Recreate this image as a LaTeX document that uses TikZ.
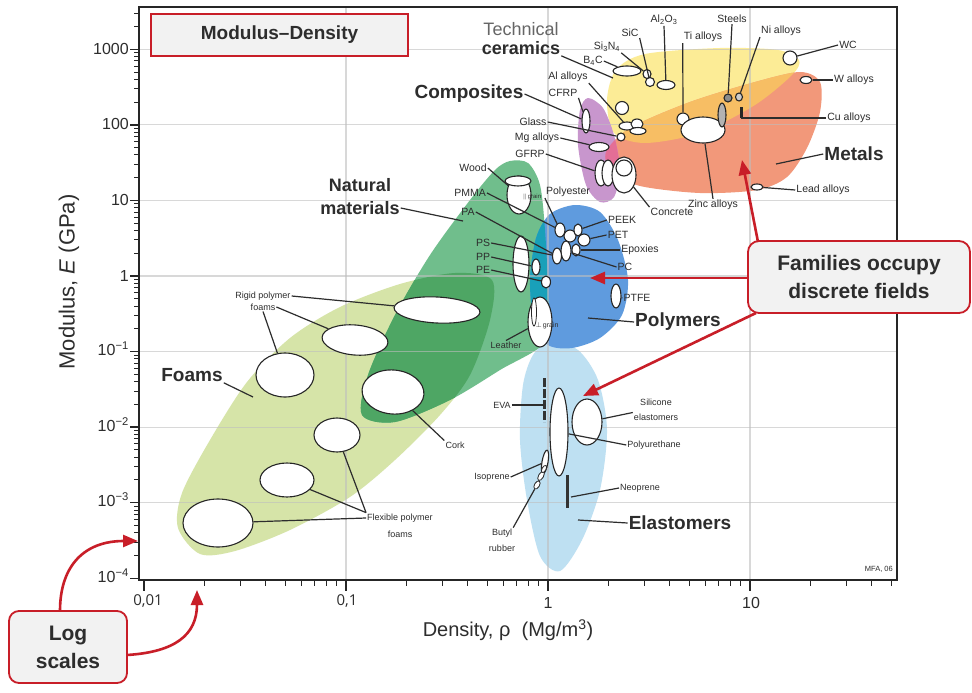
\documentclass[tikz,border=0pt]{standalone}
\usepackage{fontspec}
\setmainfont{Liberation Sans}
\newfontfamily\osans{Open Sans}
\usetikzlibrary{arrows.meta,shapes.geometric}
\definecolor{foamc}{RGB}{214,228,168}
\definecolor{natc}{RGB}{112,190,140}
\definecolor{natfoam}{RGB}{78,166,100}
\definecolor{polc}{RGB}{95,155,222}
\definecolor{polnat}{RGB}{25,160,185}
\definecolor{elac}{RGB}{190,224,242}
\definecolor{compc}{RGB}{200,150,205}
\definecolor{compmet}{RGB}{228,110,150}
\definecolor{cerc}{RGB}{252,236,150}
\definecolor{metc}{RGB}{242,152,122}
\definecolor{cermet}{RGB}{247,190,100}
\definecolor{redc}{RGB}{200,30,40}
\definecolor{boxfill}{RGB}{242,242,242}
\definecolor{txt}{RGB}{45,45,45}
\definecolor{gridc}{RGB}{190,190,190}
\newcommand\foamPath{plot[smooth cycle] coordinates {(200,554) (178,528) (182,493) (210,440) (247,382) (290,338) (340,307) (400,284) (455,273) (492,280) (490,320) (470,375) (440,415) (395,460) (350,497) (290,530) (235,551)}}
\newcommand\natPath{plot[smooth cycle] coordinates {(510,161) (528,163) (540,185) (545,230) (548,290) (547,340) (500,370) (450,400) (395,422) (362,415) (368,375) (395,315) (430,255) (470,200) (495,170)}}
\newcommand\polPath{plot[smooth cycle] coordinates {(536,238) (550,214) (575,205) (600,212) (618,240) (628,280) (622,315) (600,338) (572,348) (548,345) (534,322) (530,280)}}
\newcommand\elaPath{plot[smooth cycle] coordinates {(550,342) (578,350) (598,380) (607,430) (600,490) (582,540) (560,571) (540,556) (527,500) (520,440) (523,385) (533,355)}}
\newcommand\compPath{plot[smooth cycle] coordinates {(588,98) (603,108) (614,135) (620,170) (614,197) (600,202) (586,185) (578,145) (580,110)}}
\newcommand\cerPath{plot[smooth cycle] coordinates {(607,100) (616,70) (645,54) (720,48) (778,50) (799,60) (792,75) (755,105) (700,133) (645,143) (614,133)}}
\newcommand\metPath{plot[smooth cycle] coordinates {(606,152) (630,128) (690,102) (755,82) (800,72) (820,82) (820,112) (807,148) (787,177) (757,190) (700,193) (640,186) (612,172)}}
\begin{document}
\begin{tikzpicture}[x=1pt,y=-1pt,
  bub/.style={ellipse, draw=black!85, fill=white, line width=1.1pt, inner sep=0pt},
  lab/.style={font=\fontsize{10.5}{11}\selectfont, text=txt, inner sep=1pt},
  slab/.style={font=\fontsize{9}{10}\selectfont, text=txt, inner sep=1pt},
  blab/.style={font=\bfseries\fontsize{19}{22}\selectfont, text=txt, inner sep=1pt},
  lead/.style={draw=txt, line width=1.2pt},
  axisl/.style={draw=black!85, line width=1pt},
  ticklab/.style={font=\fontsize{16}{16}\selectfont, text=txt, inner sep=1pt},
  redarrow/.style={draw=redc, line width=2.6pt, -{Triangle[length=15pt,width=12pt]}},
  callout/.style={draw=redc, line width=1.8pt, fill=boxfill, rounded corners=11pt, font=\bfseries\fontsize{21}{28}\selectfont, text=txt, align=center, inner sep=0pt}]
\useasboundingbox (0,0) rectangle (972,693);
\fill[white] (0,0) rectangle (972,693);
% regions
\fill[foamc] \foamPath;
\fill[elac] \elaPath;
\fill[natc] \natPath;
\begin{scope}\clip \foamPath; \fill[natfoam] \natPath;\end{scope}
\fill[polc] \polPath;
\begin{scope}\clip \natPath; \fill[polnat] \polPath;\end{scope}
\fill[cerc] \cerPath;
\fill[metc] \metPath;
\begin{scope}\clip \cerPath; \fill[cermet] \metPath;\end{scope}
\fill[compc] \compPath;
\begin{scope}\clip \compPath; \fill[compmet] \metPath;\end{scope}
% grid
\foreach \k in {-3,...,3}{\pgfmathsetmacro\yy{276-75.57*\k}
  \draw[gridc, line width=1.1pt, opacity=0.6] (139,\yy) -- (897,\yy);}
\foreach \xx in {346,548,750}{\draw[gridc, line width=1.1pt, opacity=0.6] (\xx,7) -- (\xx,580);}
% foam bubbles
\node[bub, minimum width=86pt, minimum height=26pt, rotate=-3] (rf1) at (437,310) {};
\node[bub, minimum width=66pt, minimum height=30pt, rotate=-5] (rf2) at (355,340) {};
\node[bub, minimum width=58pt, minimum height=44pt] (rf3) at (285,375) {};
\node[bub, minimum width=62pt, minimum height=44pt, rotate=-5] (cork) at (393,392) {};
\node[bub, minimum width=46pt, minimum height=34pt] (ff1) at (337,435) {};
\node[bub, minimum width=54pt, minimum height=34pt] (ff2) at (287,480) {};
\node[bub, minimum width=70pt, minimum height=48pt] (ff3) at (218,523) {};
% natural / polymers
\node[bub, minimum width=24pt, minimum height=38pt] (wood) at (519,195) {};
\node[bub, minimum width=26pt, minimum height=10pt] (woodb) at (518,181) {};
\node[font=\fontsize{6}{6}\selectfont, text=txt, inner sep=0pt] (woodg) at (532,197) {$\parallel$\,grain};
\node[bub, minimum width=16pt, minimum height=56pt] (ps) at (521,264) {};
\node[bub, minimum width=8pt, minimum height=16pt] (pp) at (536,267) {};
\node[bub, minimum width=9pt, minimum height=12pt] (pe) at (546,282) {};
\node[bub, minimum width=24pt, minimum height=50pt] (leather) at (540,322) {};
\node[bub, minimum width=5pt, minimum height=28pt, line width=0.8pt] (leatherb) at (534,312) {};
\node[font=\fontsize{7}{7}\selectfont, text=txt, inner sep=0pt] (leatherg) at (547,326) {$\perp$\,grain};
\node[bub, minimum width=10pt, minimum height=14pt] (c1) at (560,230) {};
\node[bub, minimum width=12pt, minimum height=12pt] (c2) at (570,236) {};
\node[bub, minimum width=8pt, minimum height=12pt] (c3) at (578,230) {};
\node[bub, minimum width=12pt, minimum height=12pt] (c4) at (584,240) {};
\node[bub, minimum width=10pt, minimum height=20pt] (c5) at (566,251) {};
\node[bub, minimum width=9pt, minimum height=16pt] (c6) at (557,256) {};
\node[bub, minimum width=8pt, minimum height=12pt] (c7) at (576,250) {};
\node[bub, minimum width=10pt, minimum height=24pt] (ptfe) at (616,296) {};
% elastomers
\coordinate (evatop) at (544,378); \coordinate (evabot) at (544,422);
\draw[black!80, line width=3pt, dash pattern=on 9pt off 2pt] (evatop) -- (evabot);
\node[bub, minimum width=18pt, minimum height=88pt] (pu) at (559,432) {};
\node[bub, minimum width=30pt, minimum height=46pt] (sil) at (587,422) {};
\node[bub, minimum width=6pt, minimum height=24pt, rotate=-10] (iso) at (545,462) {};
\node[bub, minimum width=5pt, minimum height=10pt, rotate=-30, line width=0.8pt] (butyl) at (541,476) {};
\node[bub, minimum width=5pt, minimum height=9pt, rotate=-30, line width=0.8pt] (butylb) at (537,485) {};
\node[bub, minimum width=4pt, minimum height=8pt, rotate=-30, line width=0.8pt] (butylc) at (544,469) {};
\coordinate (neotop) at (567,475); \coordinate (neobot) at (567,508);
\draw[black!80, line width=3pt] (neotop) -- (neobot);
% ceramics / metals / composites
\node[bub, minimum width=28pt, minimum height=10pt] (b4c) at (627,71) {};
\node[bub, minimum width=8pt, minimum height=9pt] (si3n4) at (647,74) {};
\node[bub, minimum width=9pt, minimum height=9pt] (sic) at (650,82) {};
\node[bub, minimum width=18pt, minimum height=9pt] (al2o3) at (666,85) {};
\node[bub, minimum width=13pt, minimum height=13pt] (unk) at (622,108) {};
\node[bub, minimum width=16pt, minimum height=8pt] (al1) at (627,126) {};
\node[bub, minimum width=12pt, minimum height=10pt] (al2) at (637,124) {};
\node[bub, minimum width=16pt, minimum height=7pt] (cfrp) at (638,131) {};
\node[bub, minimum width=8pt, minimum height=8pt] (glassb) at (621,137) {};
\node[bub, minimum width=12pt, minimum height=12pt] (ti) at (683,119) {};
\node[bub, minimum width=44pt, minimum height=26pt] (zinc) at (703,130) {};
\node[bub, minimum width=8pt, minimum height=8pt, fill=black!45] (steel1) at (728,98) {};
\node[bub, minimum width=7pt, minimum height=8pt, fill=black!20] (steel2) at (739,97) {};
\node[bub, minimum width=8pt, minimum height=24pt, fill=black!30] (steelv) at (722,115) {};
\coordinate (cutop) at (741,107); \coordinate (cubot) at (741,118);
\draw[black!85, line width=3pt] (cutop) -- (cubot);
\node[bub, minimum width=14pt, minimum height=14pt] (wc) at (790,58) {};
\node[bub, minimum width=12pt, minimum height=7pt] (walloy) at (806,80) {};
\node[bub, minimum width=12pt, minimum height=6pt] (lead) at (757,187) {};
\node[bub, minimum width=8pt, minimum height=24pt] (cg) at (586,121) {};
\node[bub, minimum width=20pt, minimum height=9pt] (mg) at (599,147) {};
\node[bub, minimum width=12pt, minimum height=26pt] (gfrp1) at (601,173) {};
\node[bub, minimum width=12pt, minimum height=26pt] (gfrp2) at (608,173) {};
\node[bub, minimum width=24pt, minimum height=36pt] (concrete) at (624,175) {};
\node[bub, minimum width=16pt, minimum height=16pt] (concreteb) at (624,168) {};
% labels
\node[font=\fontsize{18}{20}\selectfont, text=black!60, inner sep=1pt] (tech) at (521,29) {Technical};
\node[font=\bfseries\fontsize{18}{20}\selectfont, text=txt, inner sep=1pt] (cer) at (521,48) {ceramics};
\coordinate (cerpt) at (613,78);
\draw[lead] (cer.south east) -- (cerpt);
\node[lab] (b4cl) at (593,61) {B\textsubscript{4}C};
\draw[lead] (b4cl.east) -- (b4c);
\node[lab] (si3n4l) at (607,47) {Si\textsubscript{3}N\textsubscript{4}};
\draw[lead] (si3n4l.south east) -- (si3n4);
\node[lab] (sicl) at (630,33) {SiC};
\draw[lead] (sicl.south east) -- (sic);
\node[lab] (al2o3l) at (664,20) {Al\textsubscript{2}O\textsubscript{3}};
\draw[lead] (al2o3l.south) -- (al2o3);
\node[lab] (til) at (703,37) {Ti alloys};
\draw[lead] (til.south west) -- (ti);
\node[lab] (steell) at (732,19) {Steels};
\draw[lead] (steell.south) -- (steel1);
\node[lab] (nil) at (781,31) {Ni alloys};
\draw[lead] (nil.south west) -- (steel2);
\node[lab] (wcl) at (848,45) {WC};
\draw[lead] (wcl.west) -- (wc);
\node[lab] (wall) at (854,80) {W alloys};
\draw[lead] (wall.west) -- (walloy);
\node[lab] (cul) at (849,118) {Cu alloys};
\draw[lead] (cul.west) -- (cubot |- cul.west);
\node[blab] (metl) at (854,154) {Metals};
\coordinate (metpt) at (776,164);
\draw[lead] (metl.west) -- (metpt);
\node[lab] (leadl) at (823,190) {Lead alloys};
\draw[lead] (leadl.west) -- (lead);
\node[lab] (zincl) at (713,205) {Zinc alloys};
\draw[lead] (zincl.north) -- (zinc);
\node[lab] (concl) at (672,212) {Concrete};
\draw[lead] (concl.north west) -- (concrete);
\node[blab] (compl) at (469,94) {Composites};
\draw[lead] (compl.east) -- (cg);
\node[lab] (all) at (568,77) {Al alloys};
\draw[lead] (all.south east) -- (al1);
\node[lab] (cfrpl) at (563,93) {CFRP};
\draw[lead] (cfrpl.south east) -- (cg);
\node[lab] (glassl) at (533,122) {Glass};
\draw[lead] (glassl.east) -- (glassb);
\node[lab] (mgl) at (537,138) {Mg alloys};
\draw[lead] (mgl.east) -- (mg);
\node[lab] (gfrpl) at (530,154) {GFRP};
\draw[lead] (gfrpl.east) -- (gfrp1);
\node[blab, font=\bfseries\fontsize{18}{20}\selectfont] (nat1) at (360,185) {Natural};
\node[blab, font=\bfseries\fontsize{18}{20}\selectfont] (nat2) at (360,208) {materials};
\coordinate (natpt) at (463,221);
\draw[lead] (nat2.east) -- (natpt);
\node[lab] (woodl) at (473,168) {Wood};
\draw[lead] (woodl.east) -- (wood);
\node[lab] (pmmal) at (470,193) {PMMA};
\draw[lead] (pmmal.east) -- (c1);
\node[lab] (polyl) at (568,192) {Polyester};
\draw[lead] (polyl.south west) -- (c1);
\node[lab] (pal) at (468,212) {PA};
\draw[lead] (pal.east) -- (c6);
\node[lab] (psl) at (483,243) {PS};
\draw[lead] (psl.east) -- (c6);
\node[lab] (ppl) at (483,257) {PP};
\draw[lead] (ppl.east) -- (pp);
\node[lab] (pel) at (483,270) {PE};
\draw[lead] (pel.east) -- (pe);
\node[lab] (peekl) at (622,220) {PEEK};
\draw[lead] (peekl.west) -- (c3);
\node[lab] (petl) at (618,235) {PET};
\draw[lead] (petl.west) -- (c4);
\node[lab] (epol) at (640,250) {Epoxies};
\draw[lead] (epol.west) -- (c7);
\node[lab] (pcl) at (625,267) {PC};
\draw[lead] (pcl.west) -- (c5);
\node[lab] (ptfel) at (637,298) {PTFE};
\draw[lead] (ptfel.west) -- (ptfe);
\node[blab] (poll) at (678,322) {Polymers};
\coordinate (polpt) at (588,318);
\draw[lead] (poll.west) -- (polpt);
\node[slab] (leathl) at (506,345) {Leather};
\draw[lead] (leathl.north) -- (leather);
\node[slab] (rpfa) at (263,296) {Rigid polymer};
\node[slab] (rpfb) at (263,307) {foams};
\draw[lead] (rpfa.east) -- (rf1);
\draw[lead] (rpfb.east) -- (rf2);
\draw[lead] (rpfb.south) -- (rf3);
\node[blab] (foamsl) at (192,375) {Foams};
\coordinate (foampt) at (253,397);
\draw[lead] (foamsl.south east) -- (foampt);
\node[slab] (corkl) at (455,445) {Cork};
\draw[lead] (corkl.north west) -- (cork);
\node[slab] (fpfa) at (400,518) {Flexible polymer};
\node[slab] (fpfb) at (400,534) {foams};
\draw[lead] (fpfa.north west) -- (ff1);
\draw[lead] (fpfa.north west) -- (ff2);
\draw[lead] (fpfa.west) -- (ff3);
\node[slab] (eval) at (502,405) {EVA};
\draw[lead] (eval.east) -- (evatop |- eval.east);
\node[slab] (sill) at (656,402) {Silicone};
\node[slab] (silb) at (656,417) {elastomers};
\draw[lead] (silb.north west) -- (sil);
\node[slab] (pul) at (654,445) {Polyurethane};
\draw[lead] (pul.west) -- (pu);
\node[slab] (isol) at (492,477) {Isoprene};
\draw[lead] (isol.east) -- (iso);
\node[slab] (neol) at (640,488) {Neoprene};
\coordinate (neopt) at (571,497);
\draw[lead] (neol.west) -- (neopt);
\node[slab] (butla) at (502,533) {Butyl};
\node[slab] (butlb) at (502,548) {rubber};
\draw[lead] (butla.north east) -- (butylb);
\node[blab] (elal) at (680,523) {Elastomers};
\coordinate (elapt) at (578,520);
\draw[lead] (elal.west) -- (elapt);
\node[font=\fontsize{7.5}{8}\selectfont, text=txt, anchor=east, inner sep=0pt] (mfa) at (893,569) {MFA, 06};
% axes
\coordinate (ax1) at (139,7); \coordinate (ax2) at (897,7); \coordinate (ax3) at (897,580); \coordinate (ax4) at (139,580);
\draw[black!85, line width=2.2pt] (ax1) -- (ax2) -- (ax3) -- (ax4) -- cycle;
\foreach \k in {-4,...,3}{\pgfmathsetmacro\yy{276-75.57*\k}
  \draw[axisl, line width=1.4pt] (130,\yy) -- (139,\yy);}
\foreach \k in {-4,...,3}{\foreach \m in {2,...,9}{
  \pgfmathsetmacro\yy{276-75.57*(\k+log10(\m))}
  \ifdim\yy pt>8pt \draw[axisl] (134,\yy) -- (139,\yy);\fi}}
\foreach \k in {-2,...,1}{\pgfmathsetmacro\xx{548+202*\k}
  \draw[axisl, line width=1.4pt] (\xx,580) -- (\xx,591);}
\foreach \k in {-2,...,1}{\foreach \m in {2,...,9}{
  \pgfmathsetmacro\xx{548+202*(\k+log10(\m))}
  \ifdim\xx pt<896pt \draw[axisl, line width=1.2pt] (\xx,580) -- (\xx,586);\fi}}
\node[ticklab, anchor=east] (y3) at (130,49) {1000};
\node[ticklab, anchor=east] (y2) at (130,124) {100};
\node[ticklab, anchor=east] (y1) at (130,200) {10};
\node[ticklab, anchor=east] (y0) at (130,276) {1};
\node[ticklab, anchor=east] (ym1) at (130,349) {10\textsuperscript{−1}};
\node[ticklab, anchor=east] (ym2) at (130,425) {10\textsuperscript{−2}};
\node[ticklab, anchor=east] (ym3) at (130,500) {10\textsuperscript{−3}};
\node[ticklab, anchor=east] (ym4) at (130,576) {10\textsuperscript{−4}};
\node[font=\osans\fontsize{15}{15}\selectfont, text=txt] (xm2) at (148,601) {0,01};
\node[font=\osans\fontsize{15}{15}\selectfont, text=txt] (xm1) at (347,601) {0,1};
\node[ticklab] (x0) at (548,603) {1};
\node[ticklab] (x1) at (751,603) {10};
\node[font=\fontsize{22}{24}\selectfont, text=txt, rotate=90] (ylab) at (69,282) {Modulus, \textit{E} (GPa)};
\node[font=\fontsize{20}{22}\selectfont, text=txt] (xlab) at (508,630) {Density, ρ\ \ (Mg/m\textsuperscript{3})};
% boxes
\node[draw=redc, line width=1.5pt, fill=boxfill, minimum width=257pt, minimum height=42pt, font=\bfseries\fontsize{19}{22}\selectfont, text=txt] (title) at (279.5,35) {Modulus–Density};
\node[callout, minimum width=222pt, minimum height=72pt] (fam) at (859,277) {Families occupy\\discrete fields};
\node[callout, minimum width=118pt, minimum height=72pt, rounded corners=10pt] (logs) at (68,647) {Log\\scales};
% red arrows
\coordinate (famtipP) at (590,278);
\coordinate (famtipM) at (742,160);
\coordinate (famtipE) at (583,396);
\coordinate (famA) at (fam.west |- famtipP);
\coordinate (famB) at (758,242);
\coordinate (famC) at (756,313);
\draw[redarrow] (famA) -- (famtipP);
\draw[redarrow] (famB) -- (famtipM);
\draw[redarrow] (famC) -- (famtipE);
\coordinate (logA) at (60,611);
\coordinate (logtipA) at (138,541);
\coordinate (logB) at (127,655);
\coordinate (logtipB) at (197,590);
\draw[redarrow] (logA) .. controls (60,565) and (85,541) .. (logtipA);
\draw[redarrow] (logB) .. controls (175,652) and (197,635) .. (logtipB);
\end{tikzpicture}
\end{document}
